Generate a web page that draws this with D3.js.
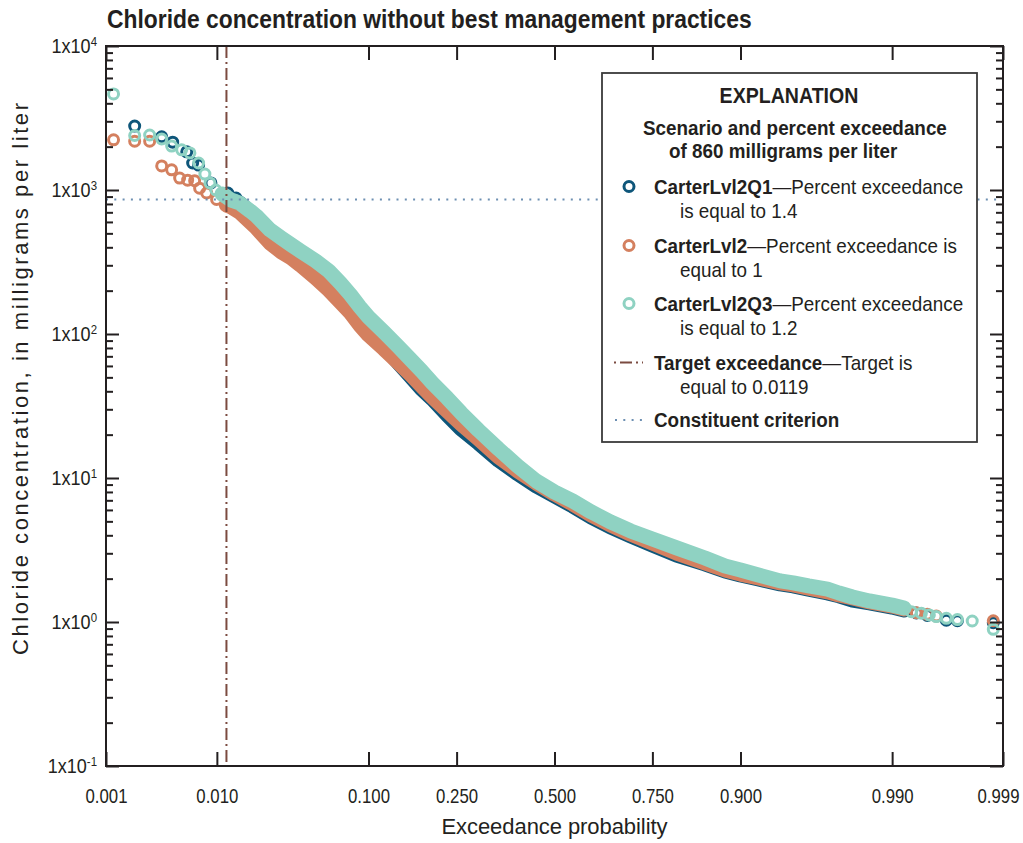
<!DOCTYPE html>
<html>
<head>
<meta charset="utf-8">
<script src="https://cdn.jsdelivr.net/npm/d3@7"></script>
<style>
  html, body { margin: 0; padding: 0; background: #ffffff; }
  svg { display: block; }
</style>
</head>
<body>
<svg id="chart" width="1023" height="843"></svg>
<script>
// ---------------------------------------------------------------
// Data: exceedance probability vs. chloride concentration (mg/L)
// ---------------------------------------------------------------
const probTicks = [0.001, 0.01, 0.1, 0.25, 0.5, 0.75, 0.9, 0.99, 0.999];
const probTickLabels = ["0.001", "0.010", "0.100", "0.250", "0.500", "0.750", "0.900", "0.990", "0.999"];
const concExponents = [-1, 0, 1, 2, 3, 4];

const targetExceedance = 0.0119;   // target exceedance probability
const criterionConc = 860;         // constituent criterion, mg/L

const seriesNames = ["CarterLvl2Q1", "CarterLvl2", "CarterLvl2Q3"];
const seriesExceedance = ["1.4", "1", "1.2"];
const seriesColors = ["#0e567a", "#d4805f", "#8fd2c2"];

// CarterLvl2Q1: high-end observations, dense middle run, low-end observations
const q1Upper = [[0.00191, 2780], [0.0034, 2340], [0.00426, 2150], [0.00564, 1840], [0.00633, 1540],
  [0.0071, 1490], [0.00896, 1120], [0.0122, 953], [0.0141, 880]];
const q1Dense = [[0.015, 812], [0.018, 703], [0.02, 629], [0.025, 495], [0.03, 435], [0.035, 383],
  [0.04, 348], [0.05, 287], [0.06, 249], [0.07, 202], [0.08, 167], [0.09, 135], [0.1, 112],
  [0.12, 82.5], [0.14, 63.9], [0.16, 51.1], [0.18, 41.5], [0.2, 35.4], [0.23, 27.4], [0.26, 21.9],
  [0.3, 17.5], [0.35, 13.3], [0.4, 10.7], [0.45, 8.8], [0.5, 7.5], [0.55, 6.39], [0.6, 5.36],
  [0.65, 4.57], [0.7, 3.96], [0.75, 3.42], [0.8, 2.92], [0.85, 2.53], [0.88, 2.26], [0.9, 2.12],
  [0.92, 1.99], [0.94, 1.84], [0.95, 1.78], [0.96, 1.69], [0.97, 1.59], [0.975, 1.52], [0.98, 1.42],
  [0.985, 1.36], [0.99, 1.27], [0.992, 1.21]];
const q1Lower = [[0.99367, 1.155], [0.9949, 1.11], [0.99653, 1.03], [0.99725, 1.02], [0.99875, 0.989]];

// CarterLvl2
const lvl2Upper = [[0.00119, 2230], [0.00191, 2180], [0.00264, 2180], [0.0034, 1470], [0.00417, 1380],
  [0.0049, 1210], [0.00574, 1170], [0.00658, 1160], [0.00724, 1030], [0.00827, 953], [0.00995, 860]];
const lvl2Dense = [[0.0119, 787], [0.013, 762], [0.015, 703], [0.018, 600], [0.02, 545], [0.025, 428],
  [0.03, 371], [0.035, 337], [0.04, 301], [0.05, 245], [0.06, 202], [0.07, 167], [0.08, 140],
  [0.09, 115], [0.1, 98.4], [0.12, 78.7], [0.14, 63.9], [0.16, 52.7], [0.18, 43.5], [0.2, 36.5],
  [0.23, 29.2], [0.26, 23.7], [0.3, 18.7], [0.35, 14.0], [0.4, 11.2], [0.45, 9.23], [0.5, 7.74],
  [0.55, 6.6], [0.6, 5.53], [0.65, 4.72], [0.7, 4.08], [0.75, 3.54], [0.8, 3.01], [0.85, 2.57],
  [0.88, 2.3], [0.9, 2.15], [0.92, 2.02], [0.94, 1.87], [0.95, 1.81], [0.96, 1.72], [0.97, 1.62],
  [0.975, 1.54], [0.98, 1.47], [0.985, 1.38], [0.99, 1.29], [0.992, 1.23]];
const lvl2Lower = [[0.99367, 1.16], [0.9949, 1.13], [0.99574, 1.10], [0.99875, 1.02]];

// CarterLvl2Q3
const q3Upper = [[0.00119, 4650], [0.00191, 2390], [0.00264, 2410], [0.0034, 2260], [0.00417, 2020],
  [0.0051, 1900], [0.006, 1810], [0.0071, 1540], [0.008, 1290], [0.0088, 1120], [0.0098, 1000]];
const q3Dense = [[0.011, 938], [0.013, 850], [0.015, 812], [0.018, 715], [0.02, 660], [0.025, 528],
  [0.03, 464], [0.035, 415], [0.04, 377], [0.05, 321], [0.06, 274], [0.07, 226], [0.08, 187],
  [0.09, 154], [0.1, 131], [0.12, 103], [0.14, 82.5], [0.16, 67], [0.18, 55.3], [0.2, 45.7],
  [0.23, 35.9], [0.26, 28.3], [0.3, 21.5], [0.35, 15.9], [0.4, 12.1], [0.45, 9.53], [0.5, 8.0],
  [0.55, 6.92], [0.6, 5.81], [0.65, 4.95], [0.7, 4.29], [0.75, 3.77], [0.8, 3.27], [0.85, 2.78],
  [0.88, 2.45], [0.9, 2.3], [0.92, 2.12], [0.94, 1.93], [0.95, 1.87], [0.96, 1.78], [0.97, 1.69],
  [0.975, 1.59], [0.98, 1.49], [0.985, 1.4], [0.99, 1.31], [0.992, 1.25]];
const q3Lower = [[0.99303, 1.18], [0.99426, 1.15], [0.9951, 1.12], [0.99574, 1.09], [0.99653, 1.06],
  [0.99725, 1.04], [0.998, 1.016], [0.99875, 0.89]];

// ---------------------------------------------------------------
// Layout and styling
// ---------------------------------------------------------------
const FONT = '"Liberation Sans", Arial, sans-serif';
const INK = "#231f20";
const plot = { left: 106, right: 1003, top: 46, bottom: 766 };

// Inverse of the standard normal CDF (Acklam's rational approximation)
function probit(p) {
  const a = [-3.969683028665376e+01, 2.209460984245205e+02, -2.759285104469687e+02,
    1.383577518672690e+02, -3.066479806614716e+01, 2.506628277459239e+00];
  const b = [-5.447609879822406e+01, 1.615858368580409e+02, -1.556989798598866e+02,
    6.680131188771972e+01, -1.328068155288572e+01];
  const c = [-7.784894002430293e-03, -3.223964580411365e-01, -2.400758277161838e+00,
    -2.549732539343734e+00, 4.374664141464968e+00, 2.938163982698783e+00];
  const d = [7.784695709041462e-03, 3.224671290700398e-01, 2.445134137142996e+00,
    3.754408661907416e+00];
  const plow = 0.02425, phigh = 1 - plow;
  let q, r;
  if (p < plow) {
    q = Math.sqrt(-2 * Math.log(p));
    return (((((c[0] * q + c[1]) * q + c[2]) * q + c[3]) * q + c[4]) * q + c[5]) /
      ((((d[0] * q + d[1]) * q + d[2]) * q + d[3]) * q + 1);
  }
  if (p > phigh) {
    q = Math.sqrt(-2 * Math.log(1 - p));
    return -(((((c[0] * q + c[1]) * q + c[2]) * q + c[3]) * q + c[4]) * q + c[5]) /
      ((((d[0] * q + d[1]) * q + d[2]) * q + d[3]) * q + 1);
  }
  q = p - 0.5; r = q * q;
  return (((((a[0] * r + a[1]) * r + a[2]) * r + a[3]) * r + a[4]) * r + a[5]) * q /
    (((((b[0] * r + b[1]) * r + b[2]) * r + b[3]) * r + b[4]) * r + 1);
}

const svg = d3.select("#chart");

// Condensed text: a horizontally squeezed group holding one <text>
function label(parent, x, y, k, size, weight, anchor) {
  const g = parent.append("g").attr("transform", `translate(${x},${y}) scale(${k},1)`);
  return g.append("text")
    .attr("font-family", FONT).attr("font-size", size)
    .attr("font-weight", weight || "normal")
    .attr("text-anchor", anchor || "start")
    .attr("fill", INK);
}

// Normal-probability x scale: linear in z, positioned through probit()
const zScale = d3.scaleLinear()
  .domain([probit(probTicks[0]), probit(probTicks[probTicks.length - 1])])
  .range([plot.left, plot.right]);
const xPos = p => zScale(probit(p));
const y = d3.scaleLog()
  .domain([Math.pow(10, concExponents[0]), Math.pow(10, concExponents[concExponents.length - 1])])
  .range([plot.bottom, plot.top]);

// Tick positions
const majorY = concExponents.map(e => Math.pow(10, e));
const minorY = [];
concExponents.slice(0, -1).forEach(e => {
  for (let k = 2; k <= 9; k++) minorY.push(k * Math.pow(10, e));
});
const probZ = probTicks.map(probit);

// ---------------------------------------------------------------
// Title (squeezed to the condensed face width)
// ---------------------------------------------------------------
const title = label(svg, 107, 28, 1, 25, "bold")
  .text("Chloride concentration without best management practices");
{
  const w = title.node().getComputedTextLength();
  d3.select(title.node().parentNode).attr("transform", `translate(107,28) scale(${645 / w},1)`);
}

// ---------------------------------------------------------------
// Data
// ---------------------------------------------------------------
const series = [
  { upper: q1Upper, dense: q1Dense, lower: q1Lower },
  { upper: lvl2Upper, dense: lvl2Dense, lower: lvl2Lower },
  { upper: q3Upper, dense: q3Dense, lower: q3Lower }
];

const line = d3.line().x(d => xPos(d[0])).y(d => y(d[1]));
const dataG = svg.append("g");

series.forEach((s, i) => {
  const g = dataG.append("g");
  // overlapping circles of the dense middle of the record
  g.append("path")
    .datum(s.dense)
    .attr("d", line)
    .attr("fill", "none")
    .attr("stroke", seriesColors[i])
    .attr("stroke-width", 15)
    .attr("stroke-linecap", "round")
    .attr("stroke-linejoin", "round");
  // individually visible observations at both ends
  g.selectAll("circle")
    .data(s.upper.concat(s.lower))
    .join("circle")
    .attr("cx", d => xPos(d[0]))
    .attr("cy", d => y(d[1]))
    .attr("r", 5)
    .attr("fill", "none")
    .attr("stroke", seriesColors[i])
    .attr("stroke-width", 3);
});

// Target exceedance and criterion lines
svg.append("line")
  .attr("x1", xPos(targetExceedance)).attr("x2", xPos(targetExceedance))
  .attr("y1", plot.top).attr("y2", plot.bottom)
  .attr("stroke", "#7b4b40").attr("stroke-width", 2)
  .attr("stroke-dasharray", "12,4,2,4");

svg.append("line")
  .attr("x1", plot.left).attr("x2", plot.right)
  .attr("y1", y(criterionConc)).attr("y2", y(criterionConc))
  .attr("stroke", "#6d8fb2").attr("stroke-width", 2)
  .attr("stroke-dasharray", "2,6.3");

// ---------------------------------------------------------------
// Axes
// ---------------------------------------------------------------
function styleAxis(g) {
  g.select(".domain").remove();
  g.selectAll(".tick line").attr("stroke", INK).attr("stroke-width", 2);
}

// left
svg.append("g").attr("transform", `translate(${plot.left},0)`)
  .call(d3.axisLeft(y).tickValues(minorY).tickSize(-7).tickFormat(""))
  .call(styleAxis);
svg.append("g").attr("transform", `translate(${plot.left},0)`)
  .call(d3.axisLeft(y).tickValues(majorY).tickSize(-13).tickFormat(""))
  .call(styleAxis);
// right
svg.append("g").attr("transform", `translate(${plot.right},0)`)
  .call(d3.axisRight(y).tickValues(minorY).tickSize(-7).tickFormat(""))
  .call(styleAxis);
svg.append("g").attr("transform", `translate(${plot.right},0)`)
  .call(d3.axisRight(y).tickValues(majorY).tickSize(-13).tickFormat(""))
  .call(styleAxis);
// top
svg.append("g").attr("transform", `translate(0,${plot.top})`)
  .call(d3.axisTop(zScale).tickValues(probZ).tickSize(-14).tickFormat(""))
  .call(styleAxis);
// bottom
const bottomAxis = svg.append("g").attr("transform", `translate(0,${plot.bottom})`)
  .call(d3.axisBottom(zScale).tickValues(probZ).tickSize(-14).tickPadding(23)
    .tickFormat((d, i) => probTickLabels[i]))
  .call(styleAxis);
bottomAxis.selectAll(".tick text")
  .attr("font-family", FONT).attr("font-size", 20).attr("fill", INK)
  .attr("transform", (d, i) => i === probTicks.length - 1 ? "translate(-5,0) scale(0.84,1)" : "scale(0.84,1)");

// y tick labels as 1x10^n
majorY.forEach((v, i) => {
  const t = label(svg, plot.left - 9, y(v) + 7, 0.88, 20.5, "normal", "end");
  t.append("tspan").text("1x10");
  t.append("tspan").attr("font-size", 13).attr("dy", -7).text(String(concExponents[i]));
});

// frame
svg.append("rect")
  .attr("x", plot.left).attr("y", plot.top)
  .attr("width", plot.right - plot.left).attr("height", plot.bottom - plot.top)
  .attr("fill", "none").attr("stroke", INK).attr("stroke-width", 2);

// axis titles
svg.append("text")
  .attr("x", (plot.left + plot.right) / 2).attr("y", 834)
  .attr("text-anchor", "middle")
  .attr("font-family", FONT).attr("font-size", 22).attr("fill", INK)
  .attr("textLength", 226).attr("lengthAdjust", "spacing")
  .text("Exceedance probability");

svg.append("text")
  .attr("transform", "translate(28,379) rotate(-90)")
  .attr("text-anchor", "middle")
  .attr("font-family", FONT).attr("font-size", 22).attr("fill", INK)
  .attr("textLength", 552).attr("lengthAdjust", "spacing")
  .text("Chloride concentration, in milligrams per liter");

// ---------------------------------------------------------------
// Legend
// ---------------------------------------------------------------
const lg = svg.append("g");
lg.append("rect")
  .attr("x", 602).attr("y", 73).attr("width", 375).attr("height", 369)
  .attr("fill", "#ffffff").attr("stroke", "#3a3a3a").attr("stroke-width", 1.8);

const KL = 0.92;   // squeeze for legend text
const LS = 20.5;   // legend font size

label(lg, 789, 103, 0.89, 22, "bold", "middle").text("EXPLANATION");
label(lg, 643, 135, KL, LS, "bold").text("Scenario and percent exceedance");
label(lg, 669, 158, KL, LS, "bold").text(`of ${criterionConc} milligrams per liter`);

function legendEntry(yBase, bold, rest, second) {
  const t = label(lg, 654, yBase, KL, LS, "normal");
  t.append("tspan").attr("font-weight", "bold").text(bold);
  if (rest) t.append("tspan").text(rest);
  if (second) label(lg, 680, yBase + 23.5, KL, LS, "normal").text(second);
}

const entryBase = [194, 253, 311];
const entryRest = ["\u2014Percent exceedance", "\u2014Percent exceedance is", "\u2014Percent exceedance"];
const entrySecond = [`is equal to ${seriesExceedance[0]}`, `equal to ${seriesExceedance[1]}`, `is equal to ${seriesExceedance[2]}`];
seriesNames.forEach((name, i) => {
  lg.append("circle")
    .attr("cx", 629).attr("cy", entryBase[i] - 7.5).attr("r", 5)
    .attr("fill", "none").attr("stroke", seriesColors[i]).attr("stroke-width", 3);
  legendEntry(entryBase[i], name, entryRest[i], entrySecond[i]);
});

lg.append("line")
  .attr("x1", 614).attr("x2", 643).attr("y1", 362.5).attr("y2", 362.5)
  .attr("stroke", "#7b4b40").attr("stroke-width", 2).attr("stroke-dasharray", "2,4,12,4");
legendEntry(370, "Target exceedance", "\u2014Target is", `equal to ${targetExceedance}`);

lg.append("line")
  .attr("x1", 615).attr("x2", 643).attr("y1", 420).attr("y2", 420)
  .attr("stroke", "#6d8fb2").attr("stroke-width", 2).attr("stroke-dasharray", "2,6.3");
legendEntry(427, "Constituent criterion", null, null);
</script>
</body>
</html>
